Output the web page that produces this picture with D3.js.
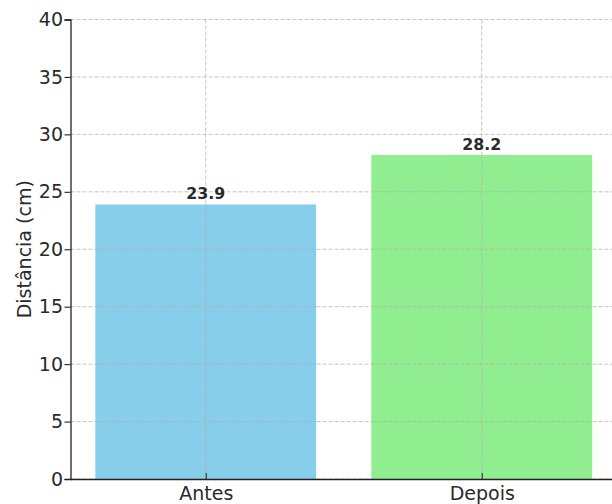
<!DOCTYPE html>
<html>
<head>
<meta charset="utf-8">
<script src="https://cdn.jsdelivr.net/npm/d3@7"></script>
<style>
  html, body { margin: 0; padding: 0; background: #ffffff; }
  svg { display: block; font-family: "DejaVu Sans", sans-serif; }
</style>
</head>
<body>
<svg id="chart" width="612" height="504"></svg>
<script>
// Categories and measured distances (cm)
const categories = ["Antes", "Depois"];
const distances = [23.9, 28.2];
const barColors = ["#87CEEB", "#90EE90"];
const yTicks = [0, 5, 10, 15, 20, 25, 30, 35, 40];
const yLabel = "Distância (cm)";

const svg = d3.select("#chart");

// Category positions on a numeric axis, bars 0.8 wide with 5% margins
const x = d3.scaleLinear().domain([-0.49, 1.49]).range([70.5, 617]);
const y = d3.scaleLinear().domain([0, 40]).range([479, 19.5]);
const barWidth = 0.8;
const textColor = "#2a2a2a";
const axisFont = "19px";

// Bars
svg.append("g")
  .selectAll("rect")
  .data(categories)
  .join("rect")
  .attr("x", (d, i) => x(i - barWidth / 2))
  .attr("width", (d, i) => x(i + barWidth / 2) - x(i - barWidth / 2))
  .attr("y", (d, i) => y(distances[i]))
  .attr("height", (d, i) => y(0) - y(distances[i]))
  .attr("fill", (d, i) => barColors[i]);

// Dashed grid drawn above the bars
const grid = svg.append("g")
  .attr("stroke", "#b0b0b0")
  .attr("stroke-opacity", 0.75)
  .attr("stroke-width", 1)
  .attr("stroke-dasharray", "4,2");

grid.selectAll("line.h")
  .data(yTicks)
  .join("line")
  .attr("class", "h")
  .attr("x1", x.range()[0])
  .attr("x2", x.range()[1])
  .attr("y1", d => y(d))
  .attr("y2", d => y(d));

grid.selectAll("line.v")
  .data(categories)
  .join("line")
  .attr("class", "v")
  .attr("x1", (d, i) => x(i))
  .attr("x2", (d, i) => x(i))
  .attr("y1", y(40))
  .attr("y2", y(0));

// Y axis
const yAxis = svg.append("g")
  .attr("transform", `translate(${x.range()[0]},0)`)
  .call(d3.axisLeft(y).tickValues(yTicks).tickSize(6).tickPadding(1.5));
yAxis.select(".domain").attr("stroke", "#222").attr("stroke-width", 1.3);
yAxis.selectAll(".tick line").attr("stroke", "#222").attr("stroke-width", 1.1);
yAxis.selectAll(".tick text")
  .attr("fill", textColor)
  .style("font-family", "DejaVu Sans")
  .style("font-size", axisFont);

// X axis, with short inward ticks
const xAxis = svg.append("g")
  .attr("transform", `translate(0,${y(0)})`)
  .call(d3.axisBottom(x)
    .tickValues(categories.map((d, i) => i))
    .tickFormat(i => categories[i])
    .tickSizeInner(-6)
    .tickSizeOuter(0)
    .tickPadding(7.5));
xAxis.select(".domain").attr("stroke", "#222").attr("stroke-width", 1.3);
xAxis.selectAll(".tick line").attr("stroke", "#333").attr("stroke-width", 1.1);
xAxis.selectAll(".tick text")
  .attr("fill", textColor)
  .style("font-family", "DejaVu Sans")
  .style("font-size", axisFont);

// Y axis title
svg.append("text")
  .attr("transform", `translate(31,${(y(0) + y(40)) / 2}) rotate(-90)`)
  .attr("text-anchor", "middle")
  .attr("fill", textColor)
  .style("font-size", axisFont)
  .text(yLabel);

// Value labels above bars
svg.append("g")
  .selectAll("text")
  .data(categories)
  .join("text")
  .attr("x", (d, i) => x(i))
  .attr("y", (d, i) => y(distances[i]) - 5.5)
  .attr("text-anchor", "middle")
  .attr("fill", textColor)
  .style("font-size", "15.8px")
  .style("font-weight", "bold")
  .text((d, i) => distances[i].toFixed(1));
</script>
</body>
</html>
